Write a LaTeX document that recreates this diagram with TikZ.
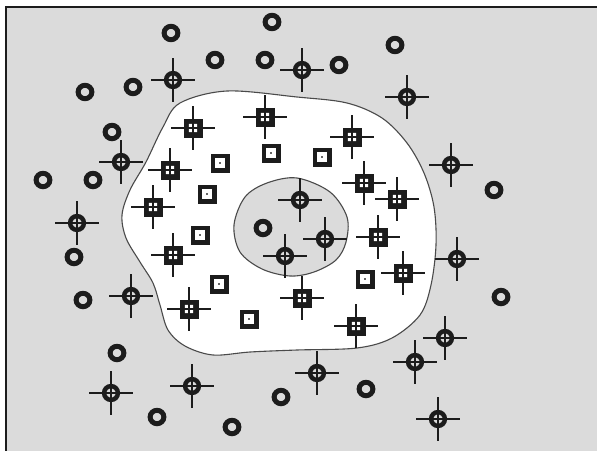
\documentclass[tikz,border=0pt]{standalone}
\usepackage{fontspec}
\newfontfamily\titlefont{Liberation Sans}
\definecolor{Paper}{HTML}{DBDBDB}
\definecolor{Ink}{HTML}{1C1C1C}
\definecolor{Edge}{HTML}{4A4A4A}

\begin{document}
\begin{tikzpicture}[x=1pt, y=-1pt,
          zone/.style={draw=Edge, line width=1.1pt},
          arms/.style={draw=Ink, line width=2.7pt},
          ringmark/.pic={\draw[Ink, line width=5pt] (0,0) circle[x radius=6.9, y radius=6.7];},
          sightmark/.pic={\draw[arms] (-22,0)--(22,0) (0,-22)--(0,22);
                          \draw[Ink, line width=4.5pt] (0,0) circle[radius=6.9];},
          cellmark/.pic={\draw[arms] (-22,0)--(22,0) (0,-22)--(0,22);
                         \fill[Ink] (-9.5,-9.5) rectangle (9.5,9.5);
                         \fill[white] (-4.2,-4.2) rectangle (-1.2,-1.2) (1.2,-4.2) rectangle (4.2,-1.2)
                                      (-4.2,1.2) rectangle (-1.2,4.2) (1.2,1.2) rectangle (4.2,4.2);},
          boxmark/.pic={\fill[Ink] (-9.5,-9.5) rectangle (9.5,9.5);
                        \fill[white] (-4.6,-4.6) rectangle (4.6,4.6);
                        \fill[black!60] (-0.7,-0.7) rectangle (0.7,0.7);}
        ]
          \path[use as bounding box] (0,0) rectangle (597,450);
          % title sits just above the cropped top edge
          \node[font=\titlefont\fontsize{30}{36}\selectfont, anchor=base west, inner sep=0pt] (title) at (-14,-7)
            {Supporting surfaces (model of the flat plane)};
          \fill[Paper] (6,7) rectangle (605,460);
          \draw[Ink, line width=2.5pt] (6,460) -- (6,7) -- (605,7);
          % regions
          \filldraw[zone, fill=white] plot[smooth cycle, tension=0.55] coordinates {
            (180,103) (227,91) (297,97) (347,103) (382,118) (407,143) (424,173) (434,207)
            (436,245) (431,285) (420,315) (392,338) (357,348) (297,350) (250,352) (213,355)
            (185,346) (168,330) (160,305) (153,283) (140,262) (126,238) (122,215) (130,190)
            (146,162) (163,127)};
          \filldraw[zone, fill=Paper] plot[smooth cycle, tension=0.55] coordinates {
            (297,178) (330,192) (347,217) (346,242) (336,260) (314,272) (290,276) (262,269)
            (240,252) (234,225) (245,197) (267,183)};
          % plain rings
          \pic at (171,33) {ringmark}; \pic at (272,22) {ringmark}; \pic at (395,45) {ringmark};
          \pic at (215,60) {ringmark}; \pic at (265,60) {ringmark}; \pic at (339,65) {ringmark};
          \pic at (85,92) {ringmark}; \pic at (133,87) {ringmark}; \pic at (112,132) {ringmark};
          \pic at (43,180) {ringmark}; \pic at (93,180) {ringmark}; \pic at (263,228) {ringmark};
          \pic at (494,190) {ringmark}; \pic at (74,257) {ringmark}; \pic at (83,300) {ringmark};
          \pic at (501,297) {ringmark}; \pic at (117,353) {ringmark}; \pic at (157,417) {ringmark};
          \pic at (232,427) {ringmark}; \pic at (281,397) {ringmark}; \pic at (366,389) {ringmark};
          % rings with sights
          \pic at (173,80) {sightmark}; \pic at (302,70) {sightmark}; \pic at (407,97) {sightmark};
          \pic at (121,162) {sightmark}; \pic at (451,165) {sightmark}; \pic at (300,200) {sightmark};
          \pic at (77,223) {sightmark}; \pic at (325,239) {sightmark}; \pic at (285,256) {sightmark};
          \pic at (457,259) {sightmark}; \pic at (131,296) {sightmark}; \pic at (111,393) {sightmark};
          \pic at (192,386) {sightmark}; \pic at (317,373) {sightmark}; \pic at (445,338) {sightmark};
          \pic at (415,362) {sightmark}; \pic at (438,419) {sightmark};
          % squares with sights
          \pic at (193,128) {cellmark}; \pic at (265,117) {cellmark}; \pic at (352,137) {cellmark};
          \pic at (170,170) {cellmark}; \pic at (364,183) {cellmark}; \pic at (397,199) {cellmark};
          \pic at (153,207) {cellmark}; \pic at (378,237) {cellmark}; \pic at (173,255) {cellmark};
          \pic at (403,273) {cellmark}; \pic at (302,298) {cellmark}; \pic at (189,309) {cellmark};
          \pic at (356,326) {cellmark};
          % plain squares
          \pic at (271,153) {boxmark}; \pic at (220,163) {boxmark}; \pic at (322,157) {boxmark};
          \pic at (207,194) {boxmark}; \pic at (200,235) {boxmark}; \pic at (365,279) {boxmark};
          \pic at (219,284) {boxmark}; \pic at (249,319) {boxmark};
        \end{tikzpicture}
\end{document}
